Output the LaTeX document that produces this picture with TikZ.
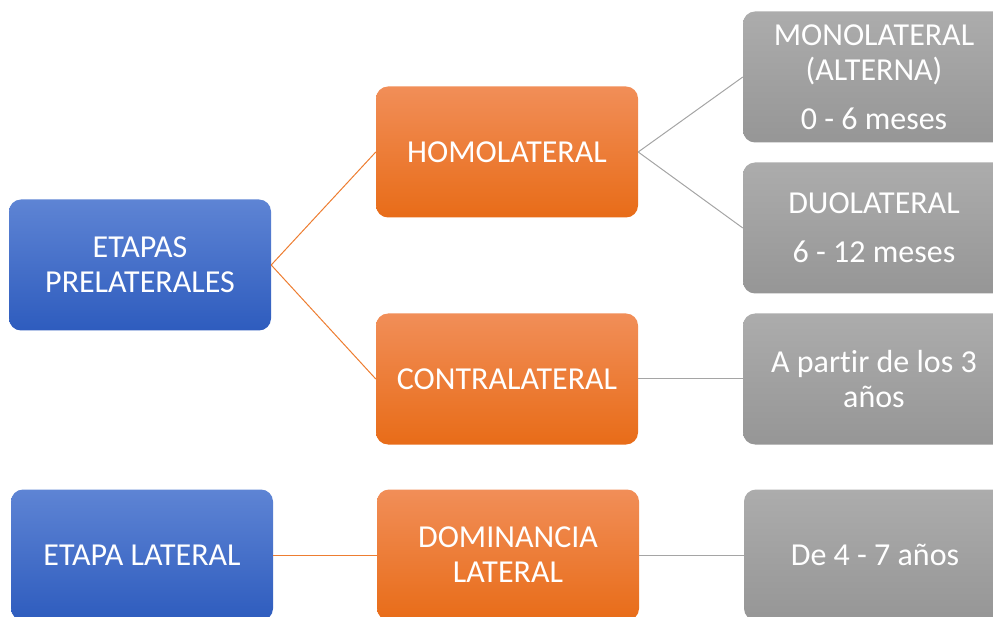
\documentclass[tikz,border=0pt]{standalone}
\usepackage{fontspec}
\setmainfont{Carlito}[Ligatures=CommonOff]
\usepackage{tikz}

\definecolor{bluetop}{RGB}{94,132,212}
\definecolor{bluebot}{RGB}{46,92,190}
\definecolor{orangetop}{RGB}{241,142,88}
\definecolor{orangebot}{RGB}{232,108,24}
\definecolor{graytop}{RGB}{172,172,172}
\definecolor{graybot}{RGB}{150,150,150}
\definecolor{orangeline}{RGB}{237,125,49}
\definecolor{grayline}{RGB}{165,165,165}

\tikzset{
  box/.style={rounded corners=12pt, minimum width=262pt, minimum height=131pt,
    text=white, align=center, font=\fontsize{32}{35}\selectfont, inner sep=0pt},
  bluebox/.style={box, top color=bluetop, bottom color=bluebot},
  orangebox/.style={box, top color=orangetop, bottom color=orangebot},
  graybox/.style={box, top color=graytop, bottom color=graybot},
  oline/.style={draw=orangeline, line width=1pt},
  gline/.style={draw=grayline, line width=1pt}
}

\begin{document}
\begin{tikzpicture}[x=1pt,y=-1pt,node distance=367pt]
      \clip (0,0) rectangle (993,617);
      \node [bluebox] (1) at (140,265) {ETAPAS\\PRELATERALES};
      \node [orangebox,right of=1,yshift=113pt] (2) {HOMOLATERAL};
      \node [orangebox,right of=1,yshift=-114pt] (3) {CONTRALATERAL};
      \node [graybox,right of=2,yshift=75pt] (4) {MONOLATERAL\\(ALTERNA)\\[14pt]0 - 6 meses};
      \node [graybox,right of=2,yshift=-76pt] (5) {DUOLATERAL\\[14pt]6 - 12 meses};
      \node [graybox,right of=3] (6) {A partir de los 3\\años};
      \node [bluebox] (7) at (142,555) {ETAPA LATERAL};
      \node [orangebox,right of=7,xshift=-1pt] (8) {DOMINANCIA\\LATERAL};
      \node [graybox,right of=8] (9) {De 4 - 7 años};

      \draw[oline] (1.east) -- (2.west);
      \draw[oline] (1.east) -- (3.west);
      \draw[gline] (2.east) -- (4.west);
      \draw[gline] (2.east) -- (5.west);
      \draw[gline] (3.east) -- (6.west);
      \draw[oline] (7.east) -- (8.west);
      \draw[gline] (8.east) -- (9.west);
    \end{tikzpicture}
\end{document}
